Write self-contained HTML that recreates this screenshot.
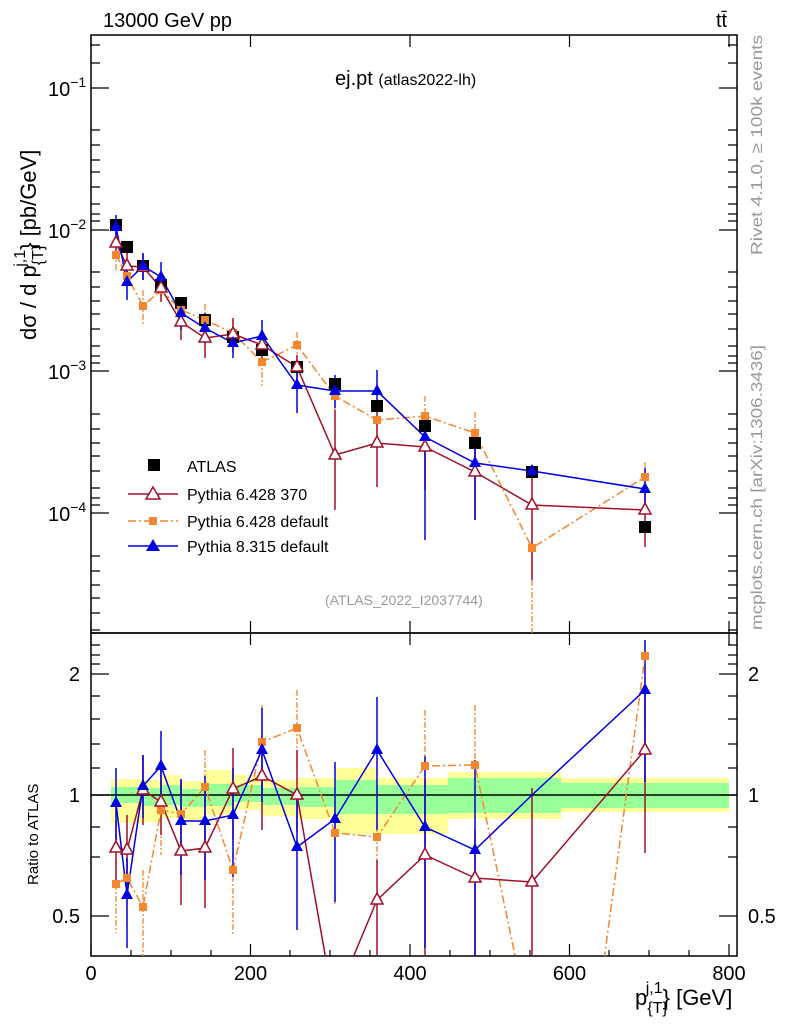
<!DOCTYPE html>
<html><head><meta charset="utf-8"><style>
body{margin:0;background:#fff;width:786px;height:1024px;overflow:hidden}
svg{font-family:"Liberation Sans",sans-serif}
</style></head><body>
<svg width="786" height="1024" viewBox="0 0 786 1024">
<defs>
<clipPath id="cm"><rect x="91" y="35" width="646" height="598"/></clipPath>
<clipPath id="cr"><rect x="91" y="633" width="646" height="323"/></clipPath>
</defs>
<text x="103" y="27" font-size="20">13000 GeV pp</text>
<text x="716" y="27" font-size="20">tt̄</text>
<text x="335" y="85" font-size="20">ej.pt <tspan font-size="16">(atlas2022-lh)</tspan></text>
<text x="325" y="605" font-size="14" fill="#999">(ATLAS_2022_I2037744)</text>
<text transform="translate(762,255) rotate(-90)" font-size="16" fill="#999" textLength="220" lengthAdjust="spacingAndGlyphs">Rivet 4.1.0, ≥ 100k events</text>
<text transform="translate(762,630) rotate(-90)" font-size="16" fill="#999" textLength="285" lengthAdjust="spacingAndGlyphs">mcplots.cern.ch [arXiv:1306.3436]</text>
<text transform="translate(36,340) rotate(-90)" font-size="22">dσ / d p<tspan font-size="16" dy="7">{T}</tspan><tspan font-size="16" dy="-18" dx="-22">j,1</tspan><tspan dy="11">} [pb/GeV]</tspan></text>
<text transform="translate(38,885) rotate(-90)" font-size="15">Ratio to ATLAS</text>
<text x="635" y="1005" font-size="22">p<tspan font-size="16" dy="8">{T}</tspan><tspan font-size="16" dy="-20" dx="-22">j,1</tspan><tspan dy="12">} [GeV]</tspan></text>
<g clip-path="url(#cr)">
<path d="M111,779H143V780H161V775H181V781H205V770H233V775H262V780H297V778H335V768H377V778H448V772H561V778H729V812H561V819H448V834H377V834H335V819H297V816H262V810H233V815H205V821H181V818H161V822H143V823H111Z" fill="#ffff99"/>
<path d="M111,787H143V788H161V785H181V789H205V784H233V785H262V788H297V787H335V780H377V785H448V778H561V783H729V808H561V813H448V814H377V814H335V807H297V805H262V802H233V806H205V807H181V805H161V806H143V803H111Z" fill="#99ff99"/>
<line x1="91" y1="795" x2="737" y2="795" stroke="#000" stroke-width="1.5"/>
</g>
<rect x="91" y="35" width="646" height="598" fill="none" stroke="#000" stroke-width="1.5"/>
<rect x="91" y="633" width="646" height="323" fill="none" stroke="#000" stroke-width="1.5"/>
<g stroke="#000" stroke-width="1.2">
<path d="M91,956v-12M250.5,956v-12M410,956v-12M569.5,956v-12M729,956v-12M91,633v-12M250.5,633v-12M410,633v-12M569.5,633v-12M729,633v-12M91,35v12M250.5,35v12M410,35v12M569.5,35v12M729,35v12M91,633v12M250.5,633v12M410,633v12M569.5,633v12M729,633v12"/>
<path d="M131,956v-6M171,956v-6M211,956v-6M290,956v-6M330,956v-6M370,956v-6M450,956v-6M490,956v-6M530,956v-6M609,956v-6M649,956v-6M689,956v-6"/>
<path d="M91,88h18M91,230h18M91,371h18M91,513h18M737,88h-18M737,230h-18M737,371h-18M737,513h-18"/>
<path d="M91,45h9M91,63h9M91,130h9M91,145h9M91,160h9M91,172h9M91,187h9M91,204h9M91,214h9M91,221h9M91,272h9M91,287h9M91,301h9M91,314h9M91,329h9M91,346h9M91,356h9M91,363h9M91,414h9M91,429h9M91,443h9M91,456h9M91,471h9M91,488h9M91,498h9M91,505h9M91,556h9M91,571h9M91,585h9M91,598h9M91,613h9M91,630h9"/>
<path d="M737,45h-9M737,63h-9M737,130h-9M737,145h-9M737,160h-9M737,172h-9M737,187h-9M737,204h-9M737,214h-9M737,221h-9M737,272h-9M737,287h-9M737,301h-9M737,314h-9M737,329h-9M737,346h-9M737,356h-9M737,363h-9M737,414h-9M737,429h-9M737,443h-9M737,456h-9M737,471h-9M737,488h-9M737,498h-9M737,505h-9M737,556h-9M737,571h-9M737,585h-9M737,598h-9M737,613h-9M737,630h-9"/>
<path d="M91,674h18M91,795h18M91,916h18M737,674h-18M737,795h-18M737,916h-18"/>
<path d="M91,645h9M91,655h9M91,664h9M91,696h9M91,719h9M91,744h9M91,768h9M91,827h9M91,857h9M737,645h-9M737,655h-9M737,664h-9M737,696h-9M737,719h-9M737,744h-9M737,768h-9M737,827h-9M737,857h-9"/>
</g>
<g font-size="20">
<text x="48" y="96">10<tspan font-size="14" dy="-9">−1</tspan></text>
<text x="48" y="238">10<tspan font-size="14" dy="-9">−2</tspan></text>
<text x="48" y="379">10<tspan font-size="14" dy="-9">−3</tspan></text>
<text x="48" y="521">10<tspan font-size="14" dy="-9">−4</tspan></text>
<text x="80" y="681" text-anchor="end">2</text>
<text x="80" y="802" text-anchor="end">1</text>
<text x="80" y="923" text-anchor="end">0.5</text>
<text x="748" y="681">2</text>
<text x="748" y="802">1</text>
<text x="748" y="923">0.5</text>
<text x="91" y="980" text-anchor="middle">0</text>
<text x="250.5" y="980" text-anchor="middle">200</text>
<text x="410" y="980" text-anchor="middle">400</text>
<text x="569.5" y="980" text-anchor="middle">600</text>
<text x="729" y="980" text-anchor="middle">800</text>
</g>
<g clip-path="url(#cm)">
<g stroke="#f4862f" stroke-width="1.3" stroke-dasharray="6,2,2,2">
<path d="M116,240V270M127,262V290M143,290V325M161,278V302M181,298V322M205,304V336M233,320V346M262,348V386M297,332V358M335,382V410M377,404V438M425,396V440M475,412V462M532,520V640M645,462V495"/>
</g>
<g stroke="#a0102a" stroke-width="1.5">
<path d="M116,230V258M127,252V280M143,254V280M161,276V302M181,306V340M205,322V358M233,318V352M262,330V362M297,355V382M335,410V510M377,412V487M425,420V490M475,445V520M532,470V580M645,493V547"/>
</g>
<g stroke="#0000e0" stroke-width="1.5">
<path d="M116,215V240M127,268V300M143,253V280M161,262V293M181,298V330M205,313V343M233,328V358M262,320V352M297,362V413M335,375V408M377,370V412M425,420V540M475,440V520M532,465V477M645,468V510"/>
</g>
<polyline fill="none" stroke="#f4862f" stroke-width="1.5" stroke-dasharray="8,3,2,3" points="116,255 127,276 143,306 161,290 181,310 205,320 233,333 262,362 297,345 335,396 377,420 425,416 475,433 532,548 645,477"/>
<polyline fill="none" stroke="#a0102a" stroke-width="1.5" points="116,243 127,266 143,267 161,288 181,322 205,338 233,334 262,345 297,367 335,455 377,443 425,447 475,472 532,505 645,510"/>
<polyline fill="none" stroke="#0000e0" stroke-width="1.5" points="116,227 127,282 143,266 161,277 181,313 205,328 233,343 262,336 297,385 335,391 377,391 425,437 475,463 532,471 645,489"/>
<g fill="#000">
<rect x="110" y="219" width="12" height="12"/><rect x="121" y="241" width="12" height="12"/><rect x="137" y="260" width="12" height="12"/><rect x="155" y="279" width="12" height="12"/><rect x="175" y="297" width="12" height="12"/><rect x="199" y="314" width="12" height="12"/><rect x="227" y="331" width="12" height="12"/><rect x="256" y="344" width="12" height="12"/><rect x="291" y="361" width="12" height="12"/><rect x="329" y="378" width="12" height="12"/><rect x="371" y="400" width="12" height="12"/><rect x="419" y="420" width="12" height="12"/><rect x="469" y="437" width="12" height="12"/><rect x="526" y="466" width="12" height="12"/><rect x="639" y="521" width="12" height="12"/>
</g>
<g fill="#f4862f">
<rect x="112" y="251" width="8" height="8"/><rect x="123" y="272" width="8" height="8"/><rect x="139" y="302" width="8" height="8"/><rect x="157" y="286" width="8" height="8"/><rect x="177" y="306" width="8" height="8"/><rect x="201" y="316" width="8" height="8"/><rect x="229" y="329" width="8" height="8"/><rect x="258" y="358" width="8" height="8"/><rect x="293" y="341" width="8" height="8"/><rect x="331" y="392" width="8" height="8"/><rect x="373" y="416" width="8" height="8"/><rect x="421" y="412" width="8" height="8"/><rect x="471" y="429" width="8" height="8"/><rect x="528" y="544" width="8" height="8"/><rect x="641" y="473" width="8" height="8"/>
</g>
<g fill="#fff" stroke="#a0102a" stroke-width="1.5">
<path d="M116,236l6,11h-12z M127,259l6,11h-12z M143,260l6,11h-12z M161,281l6,11h-12z M181,315l6,11h-12z M205,331l6,11h-12z M233,327l6,11h-12z M262,338l6,11h-12z M297,360l6,11h-12z M335,448l6,11h-12z M377,436l6,11h-12z M425,440l6,11h-12z M475,465l6,11h-12z M532,498l6,11h-12z M645,503l6,11h-12z"/>
</g>
<g fill="#0000e0">
<path d="M116,220l6,11h-12z M127,275l6,11h-12z M143,259l6,11h-12z M161,270l6,11h-12z M181,306l6,11h-12z M205,321l6,11h-12z M233,336l6,11h-12z M262,329l6,11h-12z M297,378l6,11h-12z M335,384l6,11h-12z M377,384l6,11h-12z M425,430l6,11h-12z M475,456l6,11h-12z M532,464l6,11h-12z M645,482l6,11h-12z"/>
</g>
</g>
<rect x="148" y="459" width="12" height="12" fill="#000"/>
<text x="187" y="472" font-size="16">ATLAS</text>
<line x1="128" y1="494" x2="178" y2="494" stroke="#a0102a" stroke-width="1.5"/>
<path d="M153,487l7,12h-14z" fill="#fff" stroke="#a0102a" stroke-width="1.5"/>
<text x="187" y="500" font-size="16">Pythia 6.428 370</text>
<line x1="128" y1="521" x2="178" y2="521" stroke="#f4862f" stroke-width="1.5" stroke-dasharray="8,3,2,3"/>
<rect x="149" y="517" width="8" height="8" fill="#f4862f"/>
<text x="187" y="527" font-size="16">Pythia 6.428 default</text>
<line x1="128" y1="546" x2="178" y2="546" stroke="#0000e0" stroke-width="1.5"/>
<path d="M153,539l7,12h-14z" fill="#0000e0"/>
<text x="187" y="552" font-size="16">Pythia 8.315 default</text>
<g clip-path="url(#cr)">
<g stroke="#f4862f" stroke-width="1.3" stroke-dasharray="6,2,2,2">
<path d="M116,860V933M127,850V925M143,870V990M161,780V855M181,780V850M205,750V840M233,840V935M262,705V790M297,690V770M335,810V905M377,810V870M425,710V800M475,705V790M645,645V730"/>
</g>
<g stroke="#a0102a" stroke-width="1.5">
<path d="M116,820V880M127,815V885M143,755V825M161,770V835M181,780V905M205,790V908M233,748V840M262,745V830M297,750V832M377,860V990M425,780V990M475,830V990M532,788V990M645,685V853"/>
</g>
<g stroke="#0000e0" stroke-width="1.5">
<path d="M116,768V840M127,858V948M143,755V818M161,731V805M181,779V875M205,776V880M233,768V877M262,708V802M297,795V930M335,762V902M377,697V830M425,756V948M475,760V990M645,640V782"/>
</g>
<polyline fill="none" stroke="#f4862f" stroke-width="1.5" stroke-dasharray="8,3,2,3" points="116,884 127,878 143,907 161,810 181,814 205,787 233,870 262,742 297,728 335,833 377,837 425,766 475,765 516,960 530,1030 604,960 645,656"/>
<polyline fill="none" stroke="#a0102a" stroke-width="1.5" points="116,848 127,850 143,790 161,802 181,851 205,848 233,789 262,776 297,795 326,960 352,960 377,900 425,855 475,878 532,882 645,750"/>
<polyline fill="none" stroke="#0000e0" stroke-width="1.5" points="116,803 127,895 143,786 161,766 181,821 205,821 233,815 262,750 297,847 335,819 377,750 425,827 475,850 532,795 645,690"/>
<g fill="#f4862f">
<rect x="112" y="880" width="8" height="8"/><rect x="123" y="874" width="8" height="8"/><rect x="139" y="903" width="8" height="8"/><rect x="157" y="806" width="8" height="8"/><rect x="177" y="810" width="8" height="8"/><rect x="201" y="783" width="8" height="8"/><rect x="229" y="866" width="8" height="8"/><rect x="258" y="738" width="8" height="8"/><rect x="293" y="724" width="8" height="8"/><rect x="331" y="829" width="8" height="8"/><rect x="373" y="833" width="8" height="8"/><rect x="421" y="762" width="8" height="8"/><rect x="471" y="761" width="8" height="8"/><rect x="641" y="652" width="8" height="8"/>
</g>
<g fill="#fff" stroke="#a0102a" stroke-width="1.5">
<path d="M116,841l6,11h-12z M127,843l6,11h-12z M143,783l6,11h-12z M161,795l6,11h-12z M181,844l6,11h-12z M205,841l6,11h-12z M233,782l6,11h-12z M262,769l6,11h-12z M297,788l6,11h-12z M377,893l6,11h-12z M425,848l6,11h-12z M475,871l6,11h-12z M532,875l6,11h-12z M645,743l6,11h-12z"/>
</g>
<g fill="#0000e0">
<path d="M116,796l6,11h-12z M127,888l6,11h-12z M143,779l6,11h-12z M161,759l6,11h-12z M181,814l6,11h-12z M205,814l6,11h-12z M233,808l6,11h-12z M262,743l6,11h-12z M297,840l6,11h-12z M335,812l6,11h-12z M377,743l6,11h-12z M425,820l6,11h-12z M475,843l6,11h-12z M645,683l6,11h-12z"/>
</g>
</g>
</svg>
</body></html>
